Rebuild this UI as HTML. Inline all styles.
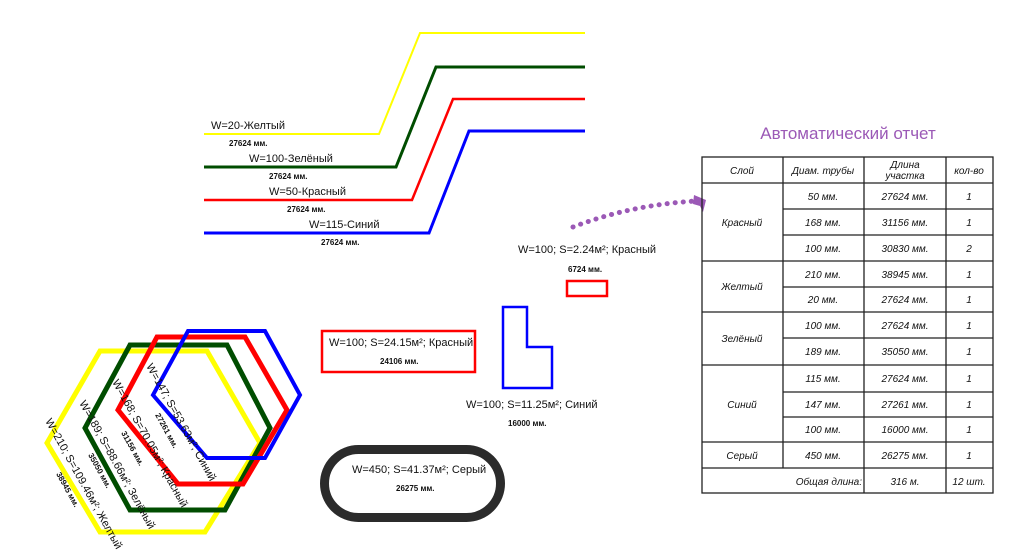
<!DOCTYPE html>
<html><head><meta charset="utf-8"><style>
html,body{margin:0;padding:0;background:#fff;}
svg{display:block;}
text{font-family:"Liberation Sans Narrow","Liberation Sans",sans-serif;fill:#111;}
.m{font-size:11px;}
.s{font-size:8px;font-weight:bold;}
.t{font-size:10px;font-style:italic;}
</style></head><body>
<svg width="1024" height="560" viewBox="0 0 1024 560" xmlns="http://www.w3.org/2000/svg">
<!-- top lines -->
<polyline points="204,134 379,134 420,33 585,33" fill="none" stroke="#ffff00" stroke-width="2"/>
<polyline points="204,167 396,167 436,67 585,67" fill="none" stroke="#004d00" stroke-width="3"/>
<polyline points="204,200 412,200 453,99 585,99" fill="none" stroke="#ff0000" stroke-width="2.5"/>
<polyline points="204,233 429,233 469,131 585,131" fill="none" stroke="#0000ff" stroke-width="3"/>
<text class="m" x="211" y="129">W=20-Желтый</text>
<text class="s" x="229" y="146">27624 мм.</text>
<text class="m" x="249" y="162">W=100-Зелёный</text>
<text class="s" x="269" y="179">27624 мм.</text>
<text class="m" x="269" y="195">W=50-Красный</text>
<text class="s" x="287" y="212">27624 мм.</text>
<text class="m" x="309" y="228">W=115-Синий</text>
<text class="s" x="321" y="245">27624 мм.</text>

<!-- hexagons -->
<polygon points="100,351 207,351 260,443 205,532 100,532 47,443" fill="none" stroke="#ffff00" stroke-width="5"/>
<polygon points="130,345 227,345 270,428 225,510 130,510 85,428" fill="none" stroke="#004d00" stroke-width="5"/>
<polygon points="157,337 245,337 287,410 243,484 178,484 118,410" fill="none" stroke="#ff0000" stroke-width="5"/>
<polygon points="188,331 265,331 300,395 265,458 207,458 153,395" fill="none" stroke="#0000ff" stroke-width="4"/>
<g class="m">
<text class="m" transform="translate(45,421) rotate(61)">W=210; S=109.46м²; Желтый</text>
<text class="s" transform="translate(56,474) rotate(61)">38945 мм.</text>
<text class="m" transform="translate(79,403) rotate(61)">W=189; S=88.66м²; Зелёный</text>
<text class="s" transform="translate(88,455) rotate(61)">35050 мм.</text>
<text class="m" transform="translate(112,382) rotate(61)">W=168; S=70.05м²; Красный</text>
<text class="s" transform="translate(121,433) rotate(61)">31156 мм.</text>
<text class="m" transform="translate(146,366) rotate(61)">W=147; S=53.63м²; Синий</text>
<text class="s" transform="translate(155,415) rotate(61)">27261 мм.</text>
</g>

<!-- middle shapes -->
<text class="m" x="518" y="253">W=100; S=2.24м²; Красный</text>
<text class="s" x="568" y="272">6724 мм.</text>
<rect x="567" y="281" width="40" height="15" fill="none" stroke="#ff0000" stroke-width="2.5"/>
<rect x="322" y="331" width="153" height="41" fill="none" stroke="#ff0000" stroke-width="2.5"/>
<text class="m" x="329" y="346">W=100; S=24.15м²; Красный</text>
<text class="s" x="380" y="364">24106 мм.</text>
<polygon points="503,307 527,307 527,347 552,347 552,388 503,388" fill="none" stroke="#0000ff" stroke-width="2.5"/>
<text class="m" x="466" y="408">W=100; S=11.25м²; Синий</text>
<text class="s" x="508" y="426">16000 мм.</text>
<rect x="324.5" y="449.5" width="176" height="68" rx="34" fill="none" stroke="#2b2b2b" stroke-width="9"/>
<text class="m" x="352" y="473">W=450; S=41.37м²; Серый</text>
<text class="s" x="396" y="491">26275 мм.</text>

<!-- dotted arrow -->
<path d="M573,227 Q630,205 696,201" fill="none" stroke="#9b59b6" stroke-width="5" stroke-linecap="round" stroke-dasharray="0.1 8"/>
<path d="M694,195 L706,200 L703,212 L700,206 L693,204 Z" fill="#9b59b6"/>

<!-- title -->
<text x="848" y="139" text-anchor="middle" style="font-family:'Liberation Sans',sans-serif;font-size:17px;fill:#9b59b6;">Автоматический отчет</text>

<!-- table -->
<g stroke="#222" stroke-width="1.3" fill="none">
<rect x="702" y="157" width="291" height="336"/>
<line x1="702" y1="183" x2="993" y2="183"/>
<line x1="783" y1="157" x2="783" y2="468"/>
<line x1="864" y1="157" x2="864" y2="493"/>
<line x1="946" y1="157" x2="946" y2="493"/>
<line x1="783" y1="209" x2="993" y2="209"/>
<line x1="783" y1="235" x2="993" y2="235"/>
<line x1="702" y1="261" x2="993" y2="261"/>
<line x1="783" y1="287" x2="993" y2="287"/>
<line x1="702" y1="312" x2="993" y2="312"/>
<line x1="783" y1="338" x2="993" y2="338"/>
<line x1="702" y1="365" x2="993" y2="365"/>
<line x1="783" y1="392" x2="993" y2="392"/>
<line x1="783" y1="417" x2="993" y2="417"/>
<line x1="702" y1="442" x2="993" y2="442"/>
<line x1="702" y1="468" x2="993" y2="468"/>
</g>
<g class="t" text-anchor="middle">
<text class="t" x="742" y="174">Слой</text>
<text class="t" x="823" y="174">Диам. трубы</text>
<text class="t" x="905" y="168">Длина</text>
<text class="t" x="905" y="179">участка</text>
<text class="t" x="969" y="174">кол-во</text>

<text class="t" x="742" y="226">Красный</text>
<text class="t" x="742" y="290">Желтый</text>
<text class="t" x="742" y="342">Зелёный</text>
<text class="t" x="742" y="408">Синий</text>
<text class="t" x="742" y="459">Серый</text>

<text class="t" x="823" y="200">50 мм.</text><text class="t" x="905" y="200">27624 мм.</text><text class="t" x="969" y="200">1</text>
<text class="t" x="823" y="226">168 мм.</text><text class="t" x="905" y="226">31156 мм.</text><text class="t" x="969" y="226">1</text>
<text class="t" x="823" y="252">100 мм.</text><text class="t" x="905" y="252">30830 мм.</text><text class="t" x="969" y="252">2</text>
<text class="t" x="823" y="278">210 мм.</text><text class="t" x="905" y="278">38945 мм.</text><text class="t" x="969" y="278">1</text>
<text class="t" x="823" y="303">20 мм.</text><text class="t" x="905" y="303">27624 мм.</text><text class="t" x="969" y="303">1</text>
<text class="t" x="823" y="329">100 мм.</text><text class="t" x="905" y="329">27624 мм.</text><text class="t" x="969" y="329">1</text>
<text class="t" x="823" y="355">189 мм.</text><text class="t" x="905" y="355">35050 мм.</text><text class="t" x="969" y="355">1</text>
<text class="t" x="823" y="382">115 мм.</text><text class="t" x="905" y="382">27624 мм.</text><text class="t" x="969" y="382">1</text>
<text class="t" x="823" y="408">147 мм.</text><text class="t" x="905" y="408">27261 мм.</text><text class="t" x="969" y="408">1</text>
<text class="t" x="823" y="433">100 мм.</text><text class="t" x="905" y="433">16000 мм.</text><text class="t" x="969" y="433">1</text>
<text class="t" x="823" y="459">450 мм.</text><text class="t" x="905" y="459">26275 мм.</text><text class="t" x="969" y="459">1</text>
<text class="t" x="905" y="485">316 м.</text><text class="t" x="969" y="485">12 шт.</text>
</g>
<text class="t" x="862" y="485" text-anchor="end">Общая длина:</text>
</svg>
</body></html>
